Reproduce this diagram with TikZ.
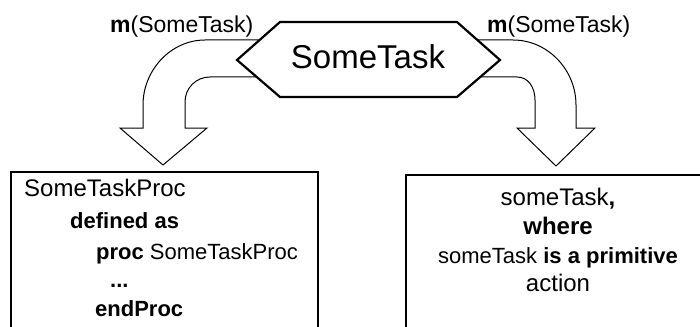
\documentclass[tikz,border=0pt]{standalone}
\usepackage{fontspec}
\setmainfont{Liberation Sans}
\begin{document}
\begin{tikzpicture}[x=1pt,y=-1pt,
  blockarrow/.style={draw=black,fill=white,line width=1pt,line join=miter},
  boxline/.style={draw=black,line width=2pt},
  hexshape/.style={draw=black,fill=white,line width=2.2pt,line join=miter},
  txt/.style={inner sep=0pt,anchor=base west},
  ctxt/.style={inner sep=0pt,anchor=base},
  big/.style={font=\fontsize{33}{38}\selectfont},
  lbl/.style={font=\fontsize{23}{27}\selectfont},
  mid/.style={font=\fontsize{24}{28}\selectfont},
  sml/.style={font=\fontsize{22}{26}\selectfont}]
\useasboundingbox (0,0) rectangle (700,326);
\clip (0,0) rectangle (700,326);
% boxes (cut off by the picture edge)
\draw[boxline] (11,340) -- (11,172) -- (318,172) -- (318,340);
\draw[boxline] (406,340) -- (406,175) -- (710,175);
% block arrows
\draw[blockarrow] (270,40) -- (205,40) .. controls (171,40) and (143,70) .. (143,105)
  -- (143,128) -- (120,128) -- (163,165) -- (207,128) -- (185,128) -- (185,102)
  .. controls (185,88) and (196,77) .. (210,77) -- (270,77) -- cycle;
\draw[blockarrow] (470,40) -- (513,40) .. controls (548,40) and (576,70) .. (576,105)
  -- (576,128) -- (595,128) -- (556,166) -- (517,128) -- (535,128) -- (535,100)
  .. controls (535,87) and (528,77) .. (517,77) -- (470,77) -- cycle;
% hexagon
\draw[hexshape] (280,22) -- (457,22) -- (500,60) -- (457,97) -- (280,97) -- (237,60) -- cycle;
\node[ctxt,big] (task) at (368,69) {SomeTask};
% labels
\node[txt,lbl] (lblL) at (110,33) {\textbf{m}(SomeTask)};
\node[txt,lbl] (lblR) at (487,33) {\textbf{m}(SomeTask)};
% left box text
\node[txt,mid] (l1) at (24,196) {SomeTaskProc};
\node[txt,sml] (l2) at (70,228) {\textbf{defined as}};
\node[txt,sml] (l3) at (96,259) {\textbf{proc} SomeTaskProc};
\node[txt,sml] (l4) at (110,287) {\textbf{...}};
\node[txt,sml] (l5) at (95,316) {\textbf{endProc}};
% right box text
\node[ctxt,mid] (r1) at (558,205) {someTask\textbf{,}};
\node[ctxt,mid] (r2) at (558,234) {\textbf{where}};
\node[ctxt,sml] (r3) at (558,263) {someTask \textbf{is a primitive}};
\node[ctxt,mid] (r4) at (558,291) {action};
\end{tikzpicture}
\end{document}
